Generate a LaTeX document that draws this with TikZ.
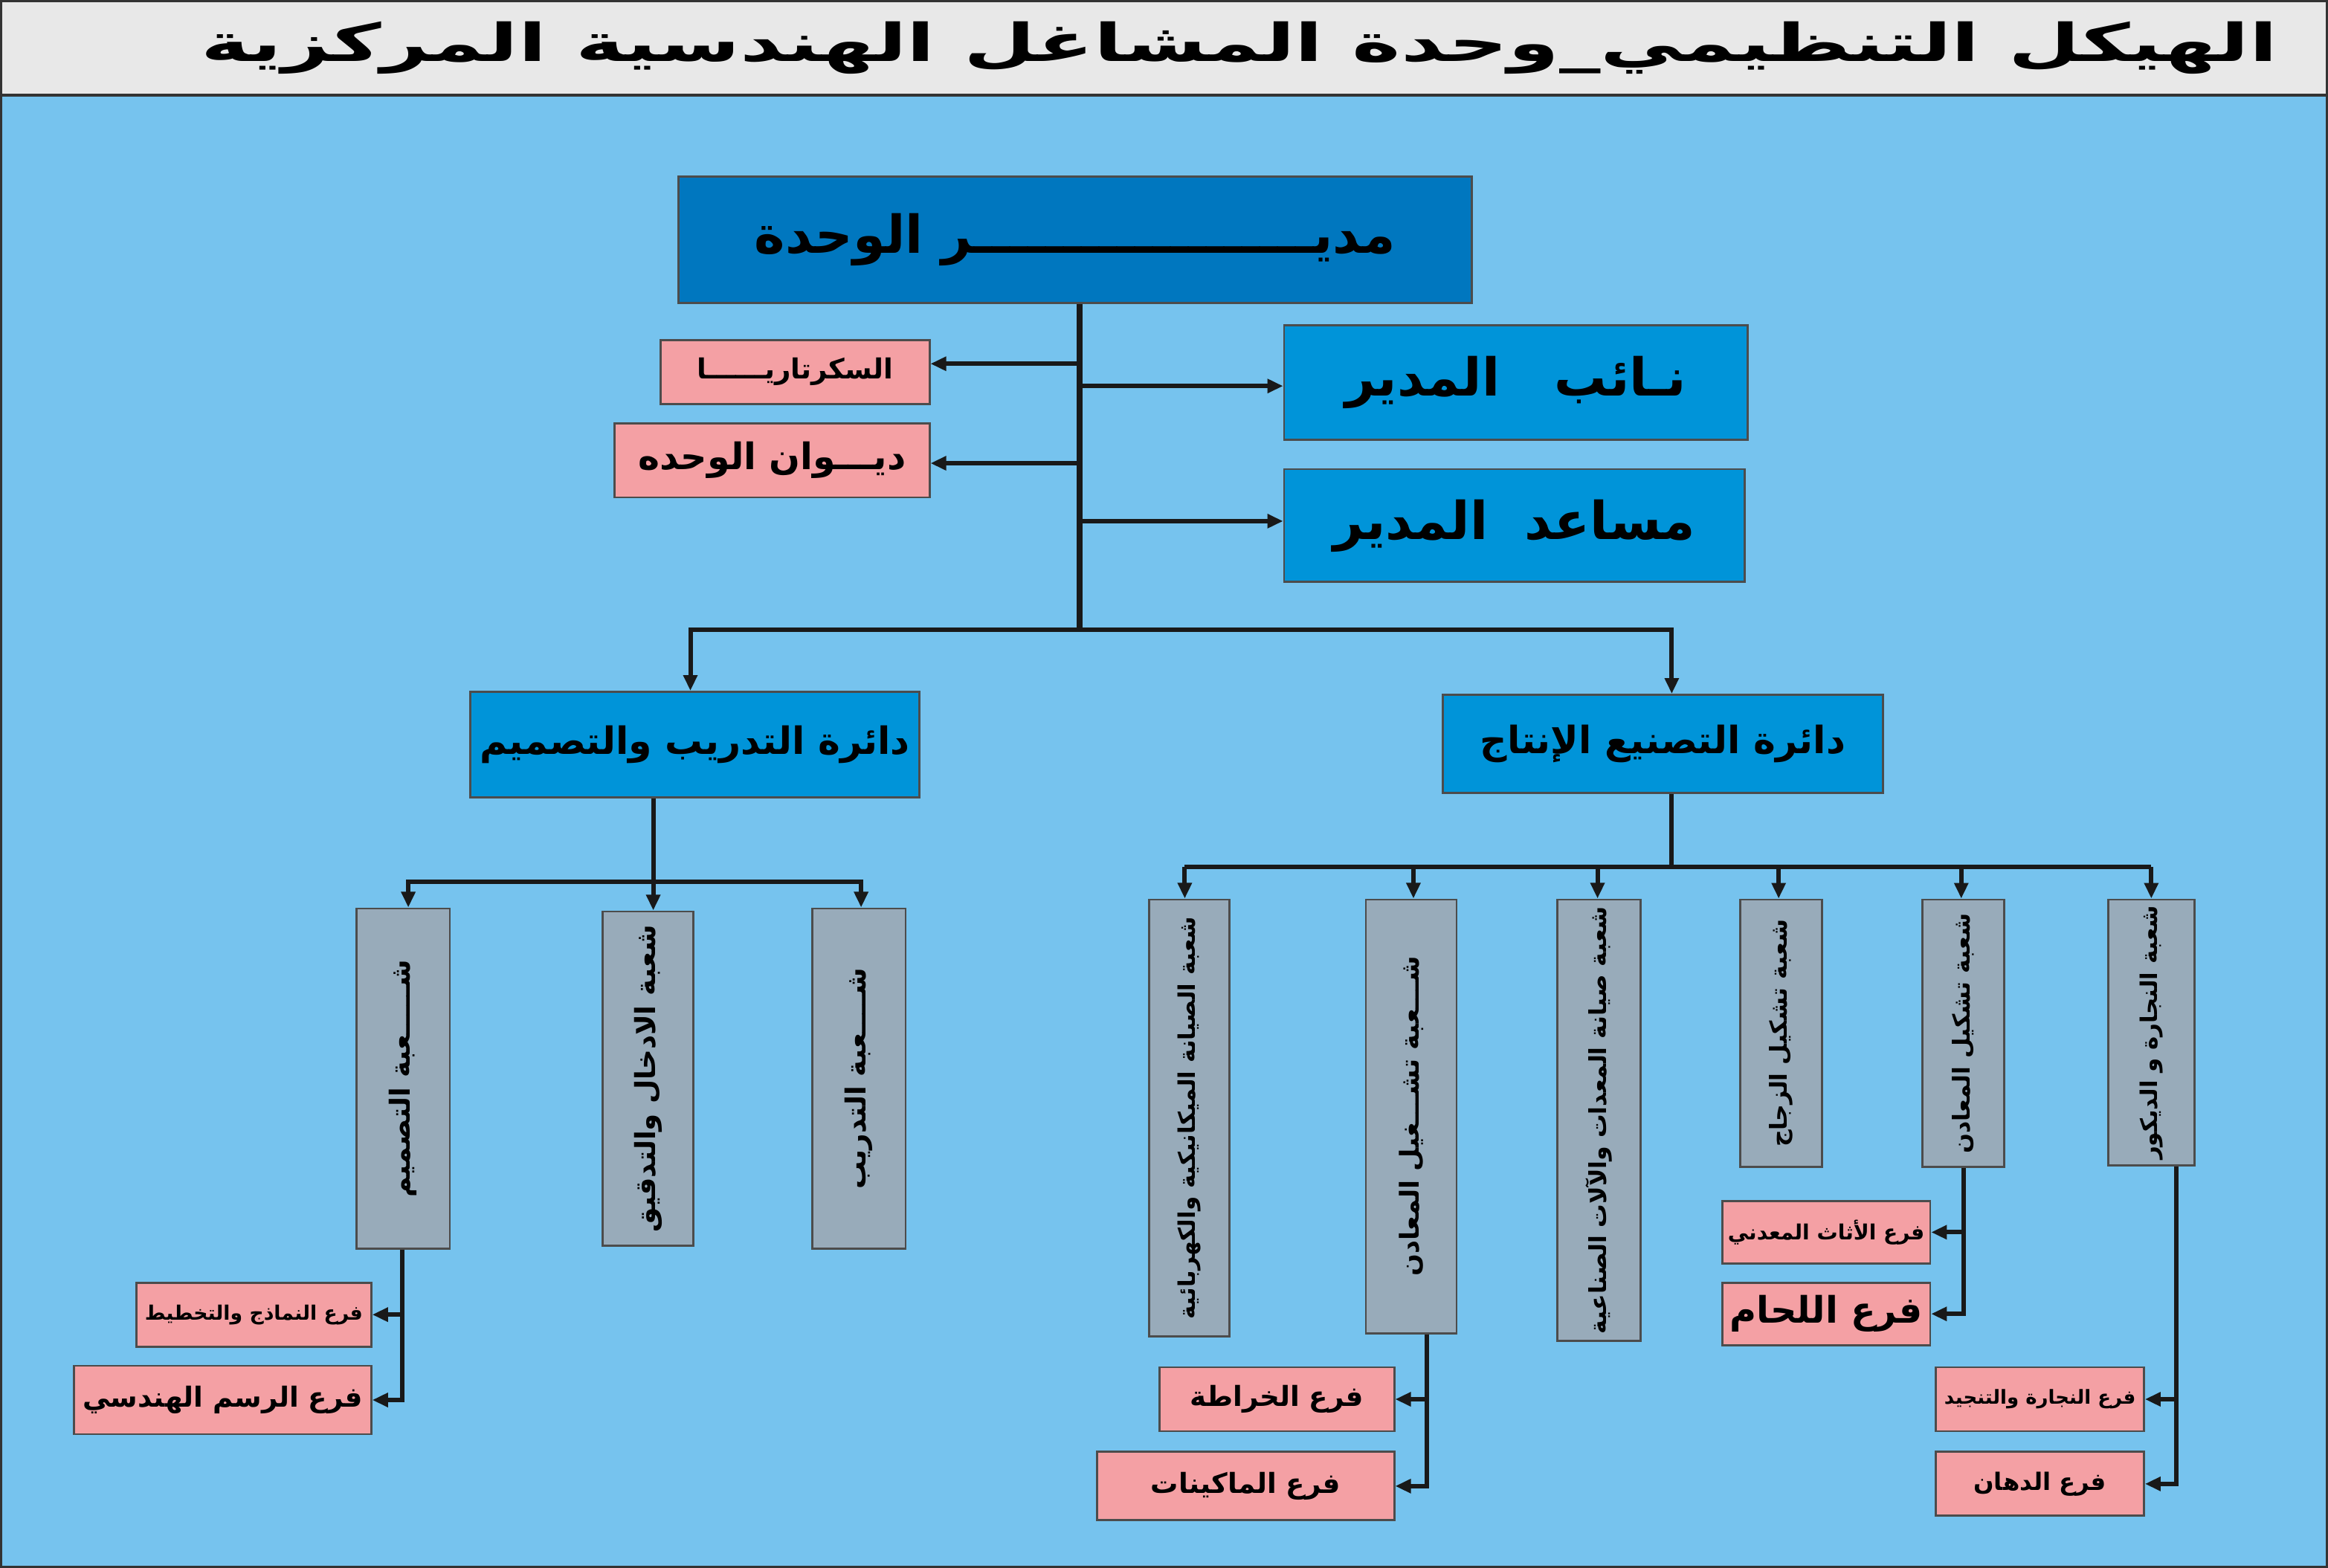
\documentclass[tikz,border=0pt]{standalone}
\usepackage{fontspec}
\usetikzlibrary{arrows.meta}
\TeXXeTstate=1
\newfontfamily\arabicfont[Script=Arabic]{DejaVu Sans}
\newcommand\AR[1]{{\arabicfont\bfseries\beginR #1\endR}}
\definecolor{bgblue}{HTML}{76C3EE}
\definecolor{dirblue}{HTML}{0077BF}
\definecolor{midblue}{HTML}{0094D9}
\definecolor{greybox}{HTML}{98ABBA}
\definecolor{pinkbox}{HTML}{F4A0A4}
\definecolor{titlegrey}{HTML}{E8E8E8}
\tikzset{
  bx/.style={draw=black!70, line width=0.4pt, inner sep=0pt, text=black},
  dirbox/.style={bx, fill=dirblue, font=\fontsize{10}{12}\selectfont},
  midbox/.style={bx, fill=midblue, font=\fontsize{10}{12}\selectfont},
  deptbox/.style={bx, fill=midblue, font=\fontsize{7.2}{9}\selectfont},
  gbox/.style={bx, fill=greybox},
  pbox/.style={bx, fill=pinkbox, font=\fontsize{5.3}{6}\selectfont},
  vtext/.style={rotate=90, inner sep=0pt, font=\fontsize{#1}{6}\selectfont},
  ln/.style={line width=0.85pt, black!90},
  arr/.style={ln, -{Triangle[length=3pt,width=2.6pt]}},
}
\begin{document}
\begin{tikzpicture}[x=0.01cm,y=-0.01cm]
\useasboundingbox (0,0) rectangle (1568,1056);
\fill[bgblue] (0,0) rectangle (1568,1056);
\fill[titlegrey] (0,0) rectangle (1568,64);
\draw[black!80, line width=0.6pt] (0,64) -- (1568,64);
\draw[black!80, line width=0.6pt] (0.3,0.3) rectangle (1567.7,1055.7);
\node[anchor=east, inner sep=0pt, font=\fontsize{10}{12}\selectfont] (title) at (1535,32)
  {\scalebox{1.58}[1]{\AR{الهيكل التنظيمي\_وحدة المشاغل الهندسية المركزية}}};

% top level
\node[dirbox, minimum width=5.34cm, minimum height=0.85cm] (dir) at (724,161.5) {\AR{مديـــــــــــــــــــر الوحدة}};
\node[midbox, minimum width=3.12cm, minimum height=0.77cm] (dep) at (1021,257.5) {\AR{نـائب\ \ \ المدير}};
\node[midbox, minimum width=3.10cm, minimum height=0.76cm] (asst) at (1020,354) {\AR{مساعد\ \ المدير}};
\node[pbox, minimum width=1.81cm, minimum height=0.43cm] (sec) at (535.5,250.5) {\AR{السكرتاريــــــا}};
\node[pbox, minimum width=2.12cm, minimum height=0.50cm, font=\fontsize{7}{8}\selectfont] (diw) at (520,310) {\AR{ديـــوان الوحده}};

\coordinate (trunk) at (727,424);
\draw[ln, line width=1.1pt] (dir.south -| trunk) -- (trunk);
\draw[arr] (727,245) -- (sec.east |- 727,245);
\draw[arr] (727,312) -- (diw.east |- 727,312);
\draw[arr] (727,260) -- (dep.west |- 727,260);
\draw[arr] (727,351) -- (asst.west |- 727,351);

% departments
\node[deptbox, minimum width=3.02cm, minimum height=0.71cm] (dtr) at (468,501.5) {\AR{دائرة التدريب والتصميم}};
\node[deptbox, minimum width=2.96cm, minimum height=0.66cm] (dpr) at (1120,501) {\AR{دائرة التصنيع الإنتاج}};
\draw[arr] (trunk) -| (dtr.north -| 465,0);
\draw[arr] (trunk) -| (dpr.north -| 1126,0);

% training sections
\node[gbox, minimum width=0.63cm, minimum height=2.29cm] (t1) at (271.5,726.5) {};
\node[vtext=5.3] at (t1) {\AR{شـــــعبة التصميم}};
\node[gbox, minimum width=0.61cm, minimum height=2.25cm] (t2) at (436.5,726.5) {};
\node[vtext=5.3] at (t2) {\AR{شعبة الادخال والتدقيق}};
\node[gbox, minimum width=0.63cm, minimum height=2.29cm] (t3) at (578.5,726.5) {};
\node[vtext=5.3] at (t3) {\AR{شــــعبة التدريب}};
\coordinate (tj) at (440,594);
\draw[ln] (tj |- dtr.south) -- (tj);
\draw[arr] (tj) -| (t1.north -| 275,0);
\draw[arr] (tj) -- (t2.north -| tj);
\draw[arr] (tj) -| (t3.north -| 580,0);

% production sections
\node[gbox, minimum width=0.54cm, minimum height=2.94cm] (p1) at (801,753) {};
\node[vtext=4.4] at (p1) {\AR{شعبة الصيانة الميكانيكية والكهربائية}};
\node[gbox, minimum width=0.61cm, minimum height=2.92cm] (p2) at (950.5,752) {};
\node[vtext=5.0] at (p2) {\AR{شـــعبة تشـــغيل المعادن}};
\node[gbox, minimum width=0.56cm, minimum height=2.97cm] (p3) at (1077,754.5) {};
\node[vtext=4.5] at (p3) {\AR{شعبة صيانة المعدات والآلات الصناعية}};
\node[gbox, minimum width=0.55cm, minimum height=1.80cm] (p4) at (1199.5,696) {};
\node[vtext=4.5] at (p4) {\AR{شعبة تشكيل الزجاج}};
\node[gbox, minimum width=0.55cm, minimum height=1.80cm] (p5) at (1322.5,696) {};
\node[vtext=4.5] at (p5) {\AR{شعبة تشكيل المعادن}};
\node[gbox, minimum width=0.58cm, minimum height=1.79cm] (p6) at (1449,695.5) {};
\node[vtext=4.4] at (p6) {\AR{شعبة النجارة و الديكور}};
\coordinate (pj) at (1126,584);
\draw[ln] (pj |- dpr.south) -- (pj);
\draw[ln] (798,584) -- (1449,584);
\draw[arr] (798,584) -- (p1.north -| 798,0);
\draw[arr] (952,584) -- (p2.north -| 952,0);
\draw[arr] (1076,584) -- (p3.north -| 1076,0);
\draw[arr] (1198,584) -- (p4.north -| 1198,0);
\draw[arr] (1321,584) -- (p5.north -| 1321,0);
\draw[arr] (1449,584) -- (p6.north -| 1449,0);

% branches
\node[pbox, minimum width=1.58cm, minimum height=0.43cm, font=\fontsize{3.8}{5}\selectfont] (f1) at (171,885.5) {\AR{فرع النماذج والتخطيط}};
\node[pbox, minimum width=2.00cm, minimum height=0.46cm] (f2) at (150,943) {\AR{فرع الرسم الهندسي}};
\draw[arr] (t1.south -| 271,0) |- (f1.east);
\draw[arr] (t1.south -| 271,0) |- (f2.east);

\node[pbox, minimum width=1.58cm, minimum height=0.43cm] (f3) at (860,942.5) {\AR{فرع الخراطة}};
\node[pbox, minimum width=2.00cm, minimum height=0.46cm] (f4) at (839,1001) {\AR{فرع الماكينات}};
\draw[arr] (p2.south -| 961,0) |- (f3.east);
\draw[arr] (p2.south -| 961,0) |- (f4.east);

\node[pbox, minimum width=1.40cm, minimum height=0.42cm, font=\fontsize{4.0}{5}\selectfont] (f5) at (1230,830) {\AR{فرع الأثاث المعدني}};
\node[pbox, minimum width=1.40cm, minimum height=0.42cm, font=\fontsize{7}{8}\selectfont] (f6) at (1230,885) {\AR{فرع اللحام}};
\draw[arr] (p5.south) |- (f5.east);
\draw[arr] (p5.south) |- (f6.east);

\node[pbox, minimum width=1.40cm, minimum height=0.43cm, font=\fontsize{3.7}{5}\selectfont] (f7) at (1374,942.5) {\AR{فرع النجارة والتنجيد}};
\node[pbox, minimum width=1.40cm, minimum height=0.43cm, font=\fontsize{4.6}{5}\selectfont] (f8) at (1374,999.5) {\AR{فرع الدهان}};
\draw[arr] (p6.south -| 1466,0) |- (f7.east);
\draw[arr] (p6.south -| 1466,0) |- (f8.east);
\end{tikzpicture}
\end{document}
